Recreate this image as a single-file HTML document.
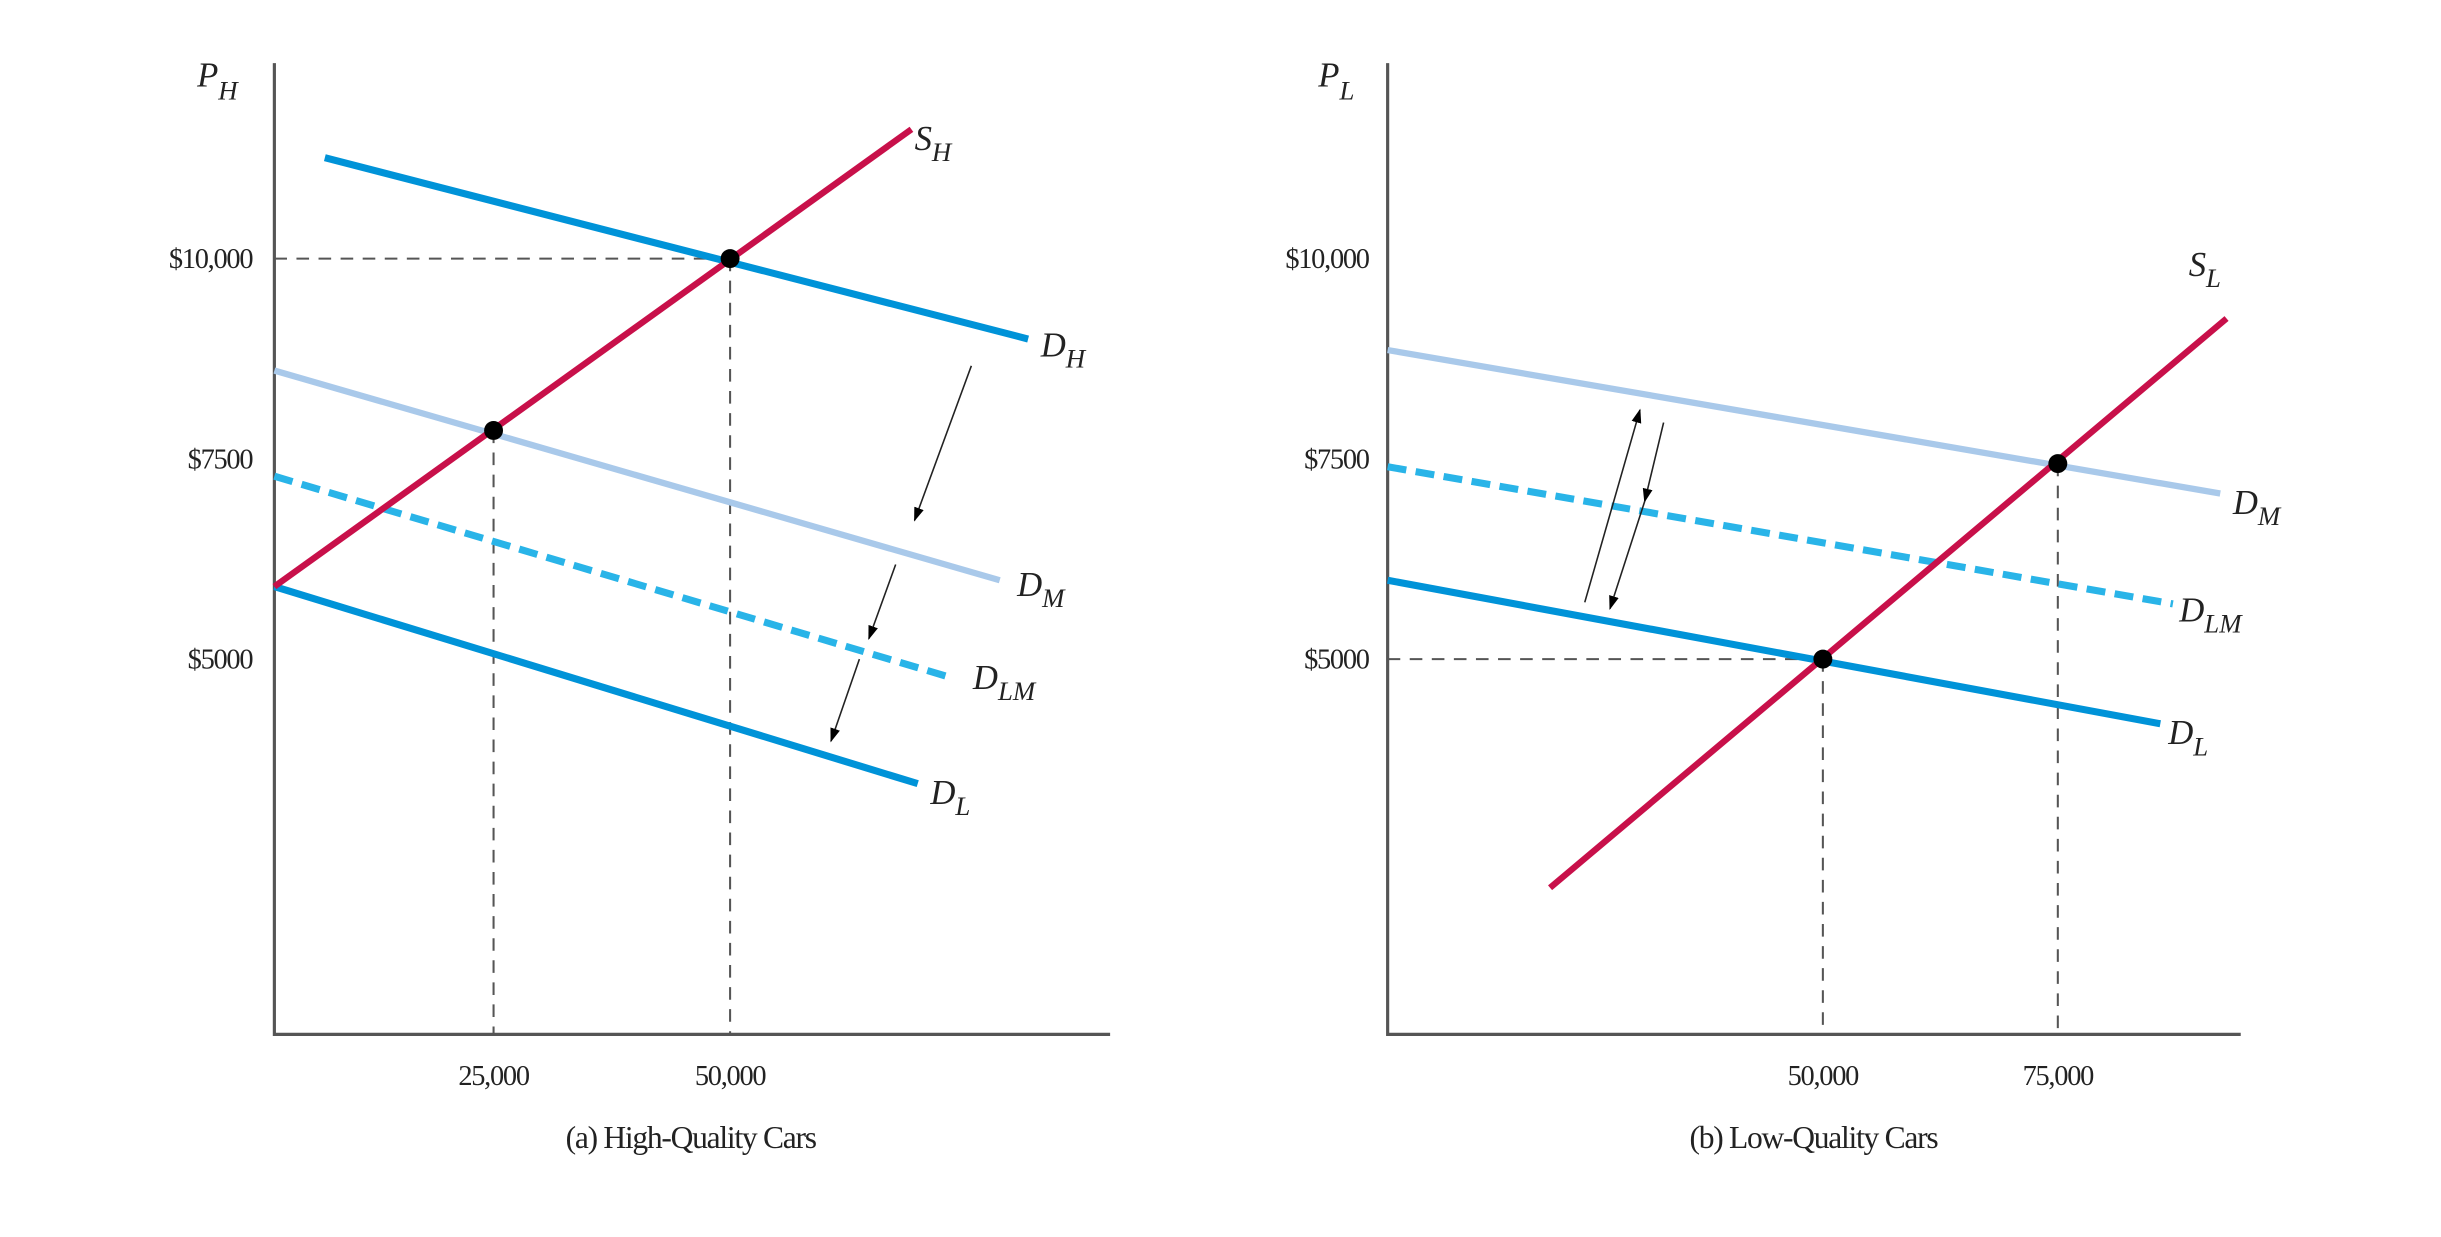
<!DOCTYPE html>
<html><head><style>html,body{margin:0;padding:0;background:#fff}svg{display:block}</style></head>
<body>
<svg width="2441" height="1237" viewBox="0 0 1548 784.5" preserveAspectRatio="none" xmlns="http://www.w3.org/2000/svg" font-family="Liberation Serif, serif">
<defs>
<marker id="ah" viewBox="0 0 10 10" refX="9" refY="5" markerWidth="9" markerHeight="9" orient="auto"><path d="M0,1.5 L10,5 L0,8.5 z" fill="#000"/></marker>
</defs>
<g stroke="#555" stroke-width="2" fill="none">
<path d="M174,40 V656 H704"/>
<path d="M880,40 V656 H1421"/>
</g>
<g stroke="#555" stroke-width="1.3" stroke-dasharray="8,6" fill="none">
<path d="M174,164 H463 M463,164 V656 M313,273 V656"/>
<path d="M880,418 H1156 M1156,418 V656 M1305,294 V656"/>
</g>
<g stroke-width="4.5" fill="none">
<line x1="206" y1="100" x2="652" y2="215" stroke="#0093d8"/>
<line x1="174" y1="235" x2="634" y2="368" stroke="#a9c9ea" stroke-width="4"/>
<line x1="174" y1="302" x2="604" y2="430" stroke="#29b4e8" stroke-dasharray="12,6"/>
<line x1="174" y1="372" x2="582" y2="497" stroke="#0093d8"/>
<line x1="174" y1="372" x2="578" y2="82" stroke="#c8104a" stroke-width="4"/>
<line x1="880" y1="222" x2="1408" y2="313" stroke="#a9c9ea" stroke-width="4"/>
<line x1="880" y1="296" x2="1378" y2="383" stroke="#29b4e8" stroke-dasharray="12,6"/>
<line x1="880" y1="368" x2="1370" y2="459" stroke="#0093d8"/>
<line x1="983" y1="563" x2="1412" y2="202" stroke="#c8104a" stroke-width="4"/>
</g>
<g stroke="#222" stroke-width="1" fill="none" marker-end="url(#ah)">
<line x1="616" y1="232" x2="580" y2="330"/>
<line x1="568" y1="358" x2="551" y2="405"/>
<line x1="545" y1="418" x2="527" y2="470"/>
<line x1="1005" y1="382" x2="1040" y2="260"/>
<line x1="1055" y1="268" x2="1043" y2="318"/>
<line x1="1043" y1="318" x2="1021" y2="386"/>
</g>
<g fill="#000">
<circle cx="463" cy="164" r="6"/><circle cx="313" cy="273" r="6"/>
<circle cx="1156" cy="418" r="6"/><circle cx="1305" cy="294" r="6"/>
</g>
<g font-size="18" fill="#222" text-anchor="end" letter-spacing="-0.8">
<text x="160" y="170">$10,000</text><text x="160" y="297">$7500</text><text x="160" y="424">$5000</text>
<text x="868" y="170">$10,000</text><text x="868" y="297">$7500</text><text x="868" y="424">$5000</text>
</g>
<g font-size="18" fill="#222" text-anchor="middle" letter-spacing="-0.8">
<text x="313" y="688">25,000</text><text x="463" y="688">50,000</text>
<text x="1156" y="688">50,000</text><text x="1305" y="688">75,000</text>
<text x="438" y="728" font-size="20">(a) High-Quality Cars</text>
<text x="1150" y="728" font-size="20">(b) Low-Quality Cars</text>
</g>
<g font-size="22" font-style="italic" fill="#222">
<text x="125" y="55">P<tspan font-size="17" dy="8">H</tspan></text>
<text x="836" y="55">P<tspan font-size="17" dy="8">L</tspan></text>
<text x="580" y="95">S<tspan font-size="17" dy="7">H</tspan></text>
<text x="660" y="226">D<tspan font-size="17" dy="7">H</tspan></text>
<text x="645" y="378">D<tspan font-size="17" dy="7">M</tspan></text>
<text x="617" y="437">D<tspan font-size="17" dy="7">LM</tspan></text>
<text x="590" y="510">D<tspan font-size="17" dy="7">L</tspan></text>
<text x="1388" y="175">S<tspan font-size="17" dy="7">L</tspan></text>
<text x="1416" y="326">D<tspan font-size="17" dy="7">M</tspan></text>
<text x="1382" y="394">D<tspan font-size="17" dy="7">LM</tspan></text>
<text x="1375" y="472">D<tspan font-size="17" dy="7">L</tspan></text>
</g>
</svg>
</body></html>
